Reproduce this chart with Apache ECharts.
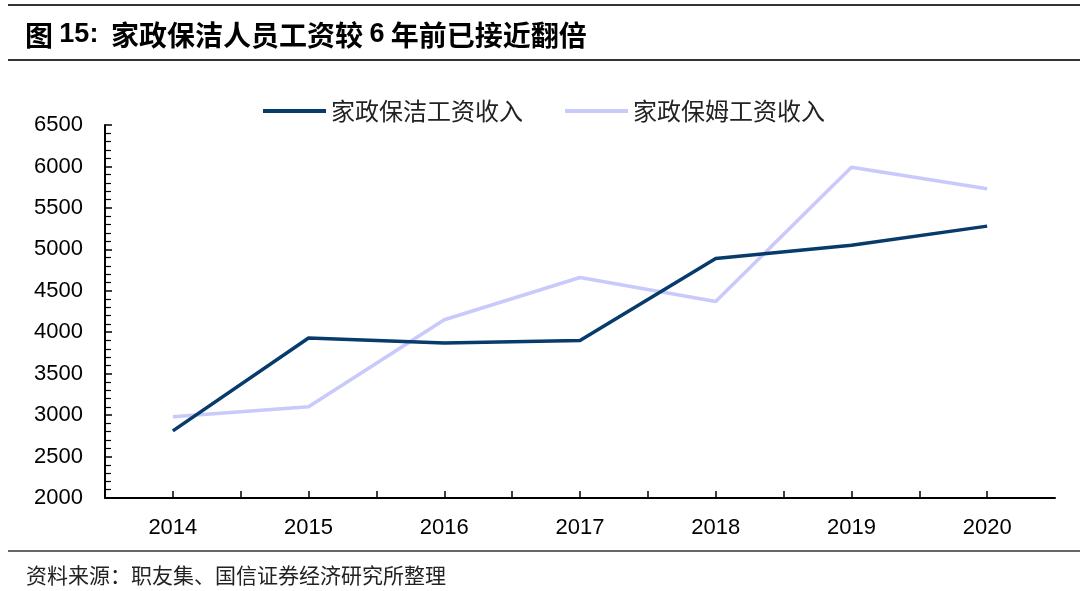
<!DOCTYPE html>
<html><head><meta charset="utf-8">
<script src="https://cdn.jsdelivr.net/npm/echarts@6/dist/echarts.min.js"></script>
<style>html,body{margin:0;padding:0;background:#fff}#c{width:1080px;height:591px}</style>
</head><body><div id="c"></div>
<script>
const years = [2014, 2015, 2016, 2017, 2018, 2019, 2020];
const cleaning = [2810, 3930, 3870, 3900, 4890, 5050, 5280];
const nanny = [2980, 3100, 4150, 4660, 4370, 5990, 5730];
const seriesNames = ['家政保洁工资收入', '家政保姆工资收入'];
const yTicks = [2000, 6500, 500];

const chart = echarts.init(document.getElementById('c'));
const CJK = '"Noto Sans CJK SC", sans-serif';
const LAT = '"Liberation Sans", Arial, sans-serif';
chart.setOption({
  animation: false,
  title: {
    left: 20, top: 16,
    text: '{c|图 }{n|15:}{c|  家政保洁人员工资较 }{n|6}{c| 年前已接近翻倍}',
    textStyle: {
      rich: {
        c: {fontFamily: CJK, fontSize: 28, fontWeight: 'bold', color: '#000'},
        n: {fontFamily: LAT, fontSize: 27, fontWeight: 'bold', color: '#000'}
      }
    }
  },
  graphic: [
    {type: 'line', shape: {x1: 8, y1: 5, x2: 1080, y2: 5}, style: {stroke: '#333', lineWidth: 2}},
    {type: 'line', shape: {x1: 8, y1: 60, x2: 1080, y2: 60}, style: {stroke: '#333', lineWidth: 2}},
    {type: 'line', shape: {x1: 8, y1: 551, x2: 1080, y2: 551}, style: {stroke: '#333', lineWidth: 1.5}},
    {type: 'text', left: 26, top: 565, style: {text: '资料来源：职友集、国信证券经济研究所整理', font: '21px "Noto Sans CJK SC"', fill: '#222'}}
  ],
  legend: {
    top: 94, left: 258,
    itemWidth: 63, itemHeight: 4, itemGap: 42,
    icon: 'rect',
    textStyle: {fontFamily: CJK, fontSize: 24, color: '#222'},
    data: seriesNames
  },
  grid: {left: 105, right: 25, top: 125, bottom: 93},
  xAxis: {
    type: 'value',
    min: years[0] - 0.5, max: years[years.length - 1] + 0.5, interval: 0.5,
    axisLine: {show: true, lineStyle: {color: '#000', width: 2}},
    axisTick: {show: true, inside: true, length: 7, lineStyle: {color: '#000', width: 1.5}},
    axisLabel: {
      margin: 19, fontFamily: LAT, fontSize: 22, color: '#000',
      formatter: v => (Number.isInteger(v) && years.includes(v)) ? String(v) : '',
      showMinLabel: false, showMaxLabel: false
    },
    splitLine: {show: false}
  },
  yAxis: {
    type: 'value', min: yTicks[0], max: yTicks[1], interval: yTicks[2],
    axisLine: {show: true, lineStyle: {color: '#000', width: 2}},
    axisTick: {show: true, inside: true, length: 7, lineStyle: {color: '#000', width: 1.5}},
    minorTick: {show: true, splitNumber: 5, length: 6, lineStyle: {color: '#000', width: 1.2}},
    axisLabel: {margin: 22, fontFamily: LAT, fontSize: 22, color: '#000', formatter: v => String(v)},
    splitLine: {show: false}
  },
  series: [
    {name: seriesNames[0], type: 'line', data: years.map((y, i) => [y, cleaning[i]]),
     showSymbol: false, symbol: 'none', lineStyle: {color: '#073b6c', width: 3.5}, itemStyle: {color: '#073b6c'}, z: 3},
    {name: seriesNames[1], type: 'line', data: years.map((y, i) => [y, nanny[i]]),
     showSymbol: false, symbol: 'none', lineStyle: {color: '#c9c9fb', width: 3.5}, itemStyle: {color: '#c9c9fb'}, z: 2}
  ]
});
</script></body></html>
